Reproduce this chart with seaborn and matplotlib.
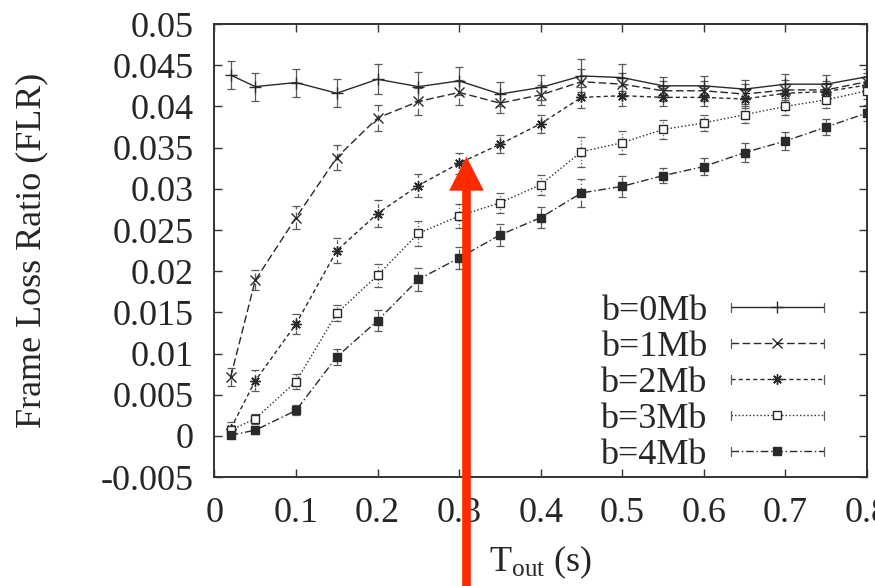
import matplotlib
matplotlib.use("Agg")
import matplotlib.pyplot as plt
from matplotlib.lines import Line2D
from matplotlib.legend_handler import HandlerLine2D
import seaborn as sns

# ---- data -------------------------------------------------------------
t_out = [0.02, 0.05, 0.10, 0.15, 0.20, 0.25, 0.30, 0.35, 0.40,
         0.45, 0.50, 0.55, 0.60, 0.65, 0.70, 0.75, 0.80]

flr_b0 = [0.0438, 0.0424, 0.0429, 0.0416, 0.0433, 0.0424, 0.0431, 0.0415, 0.0423,
          0.0437, 0.0435, 0.0425, 0.0425, 0.0421, 0.0427, 0.0427, 0.0436]
err_b0 = [0.0017, 0.0017, 0.0017, 0.0017, 0.0018, 0.0018, 0.0017, 0.0015, 0.0015,
          0.0020, 0.0016, 0.0011, 0.0012, 0.0011, 0.0012, 0.0011, 0.0010]

flr_b1 = [0.0072, 0.0189, 0.0265, 0.0338, 0.0386, 0.0406, 0.0417, 0.0404, 0.0414,
          0.0430, 0.0427, 0.0419, 0.0419, 0.0415, 0.0420, 0.0420, 0.0430]
err_b1 = [0.0011, 0.0012, 0.0014, 0.0015, 0.0016, 0.0016, 0.0015, 0.0012, 0.0012,
          0.0016, 0.0013, 0.0012, 0.0012, 0.0012, 0.0012, 0.0011, 0.0011]

flr_b2 = [0.0009, 0.0067, 0.0136, 0.0225, 0.0270, 0.0304, 0.0331, 0.0354, 0.0379,
          0.0411, 0.0413, 0.0411, 0.0411, 0.0409, 0.0416, 0.0418, 0.0426]
err_b2 = [0.0008, 0.0013, 0.0012, 0.0015, 0.0016, 0.0014, 0.0013, 0.0011, 0.0011,
          0.0013, 0.0012, 0.0011, 0.0011, 0.0011, 0.0011, 0.0010, 0.0010]

flr_b3 = [0.0007, 0.0021, 0.0066, 0.0149, 0.0195, 0.0246, 0.0267, 0.0283, 0.0305,
          0.0345, 0.0356, 0.0372, 0.0380, 0.0390, 0.0400, 0.0408, 0.0419]
err_b3 = [0.0005, 0.0006, 0.0009, 0.0010, 0.0014, 0.0015, 0.0014, 0.0012, 0.0012,
          0.0018, 0.0014, 0.0011, 0.0010, 0.0010, 0.0010, 0.0010, 0.0010]

flr_b4 = [0.0001, 0.0007, 0.0031, 0.0096, 0.0140, 0.0190, 0.0216, 0.0244, 0.0265,
          0.0295, 0.0303, 0.0316, 0.0327, 0.0344, 0.0358, 0.0375, 0.0392]
err_b4 = [0.0004, 0.0004, 0.0006, 0.0010, 0.0013, 0.0014, 0.0013, 0.0013, 0.0013,
          0.0017, 0.0013, 0.0009, 0.0010, 0.0012, 0.0011, 0.0010, 0.0010]

series_labels = ["b=0Mb", "b=1Mb", "b=2Mb", "b=3Mb", "b=4Mb"]
x_tick_labels = ["0", "0.1", "0.2", "0.3", "0.4", "0.5", "0.6", "0.7", "0.8"]
y_tick_labels = ["-0.005", "0", "0.005", "0.01", "0.015", "0.02", "0.025",
                 "0.03", "0.035", "0.04", "0.045", "0.05"]

# point the arrow at the b=2Mb curve near T_out = 0.3 s
arrow_tip = (0.309, 0.0339)

# ---- styling ----------------------------------------------------------
sns.set_style("ticks")
plt.rcParams["font.family"] = ["Liberation Serif", "DejaVu Serif"]
plt.rcParams["mathtext.fontset"] = "custom"
plt.rcParams["mathtext.rm"] = "Liberation Serif"
plt.rcParams["mathtext.it"] = "Liberation Serif:italic"

FS = 26
LINE_C = "#2a2a2a"
ERR_C = "#5a5a5a"

styles = [
    dict(ls="-",                 marker="+",        ms=8,   mfc=LINE_C),
    dict(ls=(0, (5.5, 2.5)),     marker="x",        ms=6.5, mfc=LINE_C),
    dict(ls=(0, (3, 2.2)),       marker=(8, 2, 0),  ms=7.5, mfc=LINE_C),
    dict(ls=(0, (1, 1.6)),       marker="s",        ms=5.5, mfc="white"),
    dict(ls=(0, (5.5, 2, 1, 2)), marker="s",        ms=5.5, mfc=LINE_C),
]
values = [flr_b0, flr_b1, flr_b2, flr_b3, flr_b4]
errors = [err_b0, err_b1, err_b2, err_b3, err_b4]

fig = plt.figure(figsize=(8.75, 5.86), dpi=100)
ax = fig.add_axes([0.2451, 0.1857, 0.7457, 0.7733])

handles = []
for vals, errs, st, lab in zip(values, errors, styles, series_labels):
    eb = ax.errorbar(t_out, vals, yerr=errs, fmt="none", ecolor=ERR_C,
                     elinewidth=0.9, capsize=2.6, capthick=0.9, zorder=2)
    for coll in eb[2]:
        coll.set_linestyle(st["ls"])
    sns.lineplot(x=t_out, y=vals, ax=ax, color=LINE_C, linewidth=1.0,
                 linestyle=st["ls"], marker=st["marker"], markersize=st["ms"],
                 markerfacecolor=st["mfc"], markeredgecolor=LINE_C,
                 markeredgewidth=1.0, errorbar=None, legend=False, zorder=3)
    line = ax.lines[-1]
    line.set_label(lab)
    handles.append(line)

# ---- axes -------------------------------------------------------------
x_ticks = [float(s) for s in x_tick_labels]
y_ticks = [float(s) for s in y_tick_labels]
ax.set_xlim(0, 0.8)
ax.set_ylim(-0.005, 0.05)
ax.set_xticks(x_ticks, x_tick_labels)
ax.set_yticks(y_ticks, y_tick_labels)
ax.tick_params(axis="both", which="major", direction="in", length=6, width=1.0,
               color="#333333", labelsize=FS, top=True, right=True)
ax.tick_params(axis="y", pad=15)
ax.tick_params(axis="x", pad=14)
for sp in ax.spines.values():
    sp.set_color("#333333")
    sp.set_linewidth(1.4)

ax.set_ylabel("Frame Loss Ratio (FLR)", fontsize=FS)
ax.yaxis.set_label_coords(-0.255, 0.5)
ax.set_xlabel(r"T$_{\mathrm{out}}$ (s)", fontsize=FS)
ax.xaxis.set_label_coords(0.5, -0.147)


# ---- legend: line samples with error-bar caps at both ends -----------
class CappedLineHandler(HandlerLine2D):
    def create_artists(self, legend, orig_handle, xdescent, ydescent,
                       width, height, fontsize, trans):
        artists = super().create_artists(legend, orig_handle, xdescent, ydescent,
                                         width, height, fontsize, trans)
        yc = (height - ydescent) / 2
        for xe in (-xdescent, -xdescent + width):
            cap = Line2D([xe, xe], [yc - 3.2, yc + 3.2], color=ERR_C, lw=0.9)
            cap.set_transform(trans)
            artists.append(cap)
        return artists


leg = ax.legend(handles=handles, labels=series_labels, loc="lower right",
                bbox_to_anchor=(0.934, 0.012), frameon=False, fontsize=FS,
                markerfirst=False, numpoints=1, handlelength=2.58,
                handletextpad=0.66, labelspacing=0.075, borderpad=0,
                borderaxespad=0,
                handler_map={Line2D: CappedLineHandler()})

# ---- red arrow rising from below the axis ----------------------------
ax.annotate("", xy=arrow_tip, xycoords="data",
            xytext=(arrow_tip[0], -0.4), textcoords=ax.get_xaxis_transform(),
            arrowprops=dict(arrowstyle="simple,head_length=24.5,head_width=25,tail_width=6.2",
                            mutation_scale=1, color="#ff2a00", shrinkA=0, shrinkB=0,
                            lw=0),
            annotation_clip=False, zorder=10)

fig.savefig("out.png", dpi=100)
